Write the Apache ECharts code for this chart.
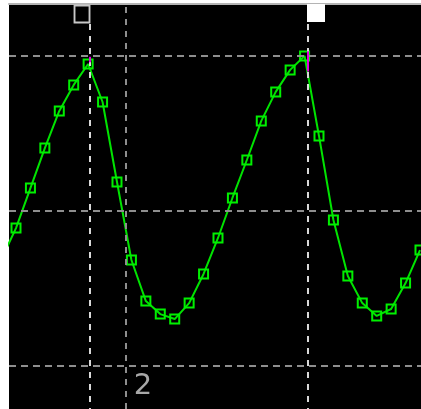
<!DOCTYPE html>
<html>
<head>
<meta charset="utf-8">
<script src="https://cdn.jsdelivr.net/npm/echarts@6/dist/echarts.min.js"></script>
<style>
  html, body { margin: 0; padding: 0; background: #ffffff; }
  #scope { width: 421px; height: 409px; }
</style>
</head>
<body>
<div id="scope"></div>
<script>
// Sample index of each acquired point (one per marker) and its level in divisions
const sampleIndex = [-1, 0, 1, 2, 3, 4, 5, 6, 7, 8, 9, 10, 11, 12, 13, 14,
  15, 16, 17, 18, 19, 20, 21, 22, 23, 24, 25, 26, 27, 28];
const traceLevel = [-0.31, -0.11, 0.148, 0.406, 0.645, 0.813, 0.948, 0.703, 0.187, -0.316,
  -0.581, -0.665, -0.697, -0.594, -0.406, -0.174, 0.084, 0.329, 0.581, 0.768,
  0.910, 1.000, 0.484, -0.058, -0.419, -0.594, -0.677, -0.632, -0.465, -0.252];

// Visible window of the screen
const xRange = [-0.485, 28.07];
const yRange = [-1.277, 1.335];

// Horizontal graticule levels and vertical reference lines
const gridLevels = [-1, 0, 1];
const cursorA = 5.13;      // hollow cursor
const cursorB = 20.24;     // filled cursor
const refLine = 7.62;      // channel reference line
const refLabel = '2';
const cursorTop = 1.206;   // cursors start under their flags

const points = sampleIndex.map((x, i) => [x, traceLevel[i]]);

const chart = echarts.init(document.getElementById('scope'), null, { renderer: 'canvas' });

const hDash = { color: '#8e8e8e', width: 2, type: [7, 5] };
const cursorDash = { color: '#d8d8d8', width: 2, type: [6, 6] };
const refDash = { color: '#8e8e8e', width: 2, type: [6, 6] };

chart.setOption({
  animation: false,
  backgroundColor: '#ffffff',
  grid: {
    left: 9, right: 0, top: 4, bottom: 0,
    show: true, backgroundColor: '#000000', borderWidth: 0
  },
  xAxis: {
    type: 'value', position: 'top', min: xRange[0], max: xRange[1],
    axisLine: { show: true, onZero: false, lineStyle: { color: '#b4b4b4', width: 2 } },
    axisTick: { show: false }, axisLabel: { show: false }, splitLine: { show: false }
  },
  yAxis: {
    type: 'value', min: yRange[0], max: yRange[1], show: false,
    splitLine: { show: false }
  },
  series: [
    {
      // graticule and cursors, drawn under the trace
      type: 'line', data: [], z: 1, silent: true,
      markLine: {
        silent: true, symbol: 'none', animation: false,
        label: { show: false },
        data: [
          ...gridLevels.map(v => ({ yAxis: v, lineStyle: hDash })),
          { xAxis: refLine, lineStyle: refDash },
          [{ coord: [cursorA, cursorTop], lineStyle: cursorDash }, { coord: [cursorA, yRange[0]] }],
          [{ coord: [cursorB, cursorTop], lineStyle: cursorDash }, { coord: [cursorB, yRange[0]] }]
        ]
      },
      markPoint: {
        silent: true, animation: false,
        data: [
          {
            coord: [cursorA, yRange[1]], symbol: 'rect', symbolSize: [15, 17], symbolOffset: [-8, 10],
            itemStyle: { color: 'transparent', borderColor: '#c8c8c8', borderWidth: 2 },
            label: { show: false }
          },
          {
            coord: [cursorB, yRange[1]], symbol: 'rect', symbolSize: [18, 18], symbolOffset: [8, 9],
            itemStyle: { color: '#ffffff' },
            label: { show: false }
          },
          {
            coord: [refLine, gridLevels[0]], symbol: 'rect', symbolSize: 1,
            itemStyle: { color: 'transparent' },
            label: {
              show: true, formatter: refLabel, position: 'inside', offset: [17, 20],
              color: '#a8a8a8', fontSize: 29, fontFamily: 'DejaVu Sans', fontWeight: 'normal'
            }
          }
        ]
      }
    },
    {
      // trigger crossing ticks on the cursors
      type: 'line', data: [], z: 3, silent: true,
      markLine: {
        silent: true, symbol: 'none', animation: false, label: { show: false },
        lineStyle: { color: '#e000e0', width: 2, type: 'solid' },
        data: [
          [{ coord: [cursorA, 0.995] }, { coord: [cursorA, 0.96] }],
          [{ coord: [cursorB, 1.03] }, { coord: [cursorB, 0.90] }]
        ]
      }
    },
    {
      type: 'line', data: points, z: 2,
      symbol: 'rect', symbolSize: 9, showAllSymbol: true,
      lineStyle: { color: '#00e400', width: 2 },
      itemStyle: { color: 'transparent', borderColor: '#00f000', borderWidth: 2 },
      clip: true
    }
  ]
});
</script>
</body>
</html>
